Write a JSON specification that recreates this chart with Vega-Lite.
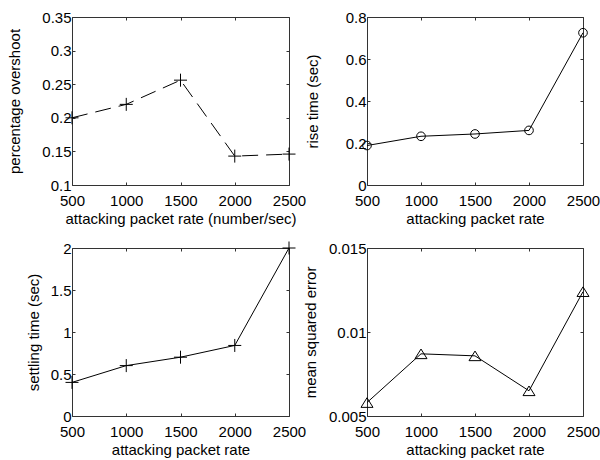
{
  "$schema": "https://vega.github.io/schema/vega-lite/v6.json",
  "padding": {"left": 7, "top": 9, "right": 0, "bottom": 0},
  "background": "#ffffff",
  "columns": 2,
  "spacing": {"row": 63, "column": 78},
  "bounds": "flush",
  "config": {
    "font": "Liberation Sans",
    "view": {"stroke": "#333333", "strokeWidth": 1},
    "axis": {
      "labelFont": "Liberation Sans", "titleFont": "Liberation Sans",
      "labelFontSize": 15, "titleFontSize": 15, "titleFontWeight": "normal",
      "labelColor": "#000000", "titleColor": "#000000",
      "grid": false, "domain": false, "tickSize": -3, "tickColor": "#333333", "tickWidth": 1,
      "labelPadding": 4, "labelOverlap": false, "labelFlush": false, "labelBound": false
    },
    "axisX": {"titlePadding": 3, "labelPadding": 11},
    "axisY": {"titlePadding": 9}
  },
  "concat": [
    {
      "width": 217, "height": 168,
      "data": {"values": [
        {"rate": 500, "value": 0.2},
        {"rate": 1000, "value": 0.22},
        {"rate": 1500, "value": 0.256},
        {"rate": 2000, "value": 0.143},
        {"rate": 2500, "value": 0.146}
      ]},
      "layer": [
        {
          "mark": {"type": "line", "color": "#000000", "strokeWidth": 1, "strokeDash": [16, 8]},
          "encoding": {
            "x": {"field": "rate", "type": "quantitative", "scale": {"domain": [500, 2500], "nice": false, "zero": false},
                  "axis": {"orient": "bottom", "values": [500, 1000, 1500, 2000, 2500], "format": "d", "title": "attacking packet rate (number/sec)"}},
            "y": {"field": "value", "type": "quantitative", "scale": {"domain": [0.1, 0.35], "nice": false, "zero": false},
                  "axis": {"orient": "left", "values": [0.1, 0.15, 0.2, 0.25, 0.3, 0.35], "labelExpr": "format(datum.value, '~g')", "title": "percentage overshoot", "titlePadding": 19}}
          }
        },
        {
          "mark": {"type": "point", "shape": "M-1,0L1,0M0,-1L0,1", "size": 169, "filled": false, "color": "#000000", "strokeWidth": 1, "opacity": 1},
          "encoding": {
            "x": {"field": "rate", "type": "quantitative", "scale": {"domain": [500, 2500], "nice": false, "zero": false},
                  "axis": {"orient": "top", "values": [500, 1000, 1500, 2000, 2500], "labels": false, "title": null}},
            "y": {"field": "value", "type": "quantitative", "scale": {"domain": [0.1, 0.35], "nice": false, "zero": false},
                  "axis": {"orient": "right", "values": [0.1, 0.15, 0.2, 0.25, 0.3, 0.35], "labels": false, "title": null}}
          }
        }
      ],
      "resolve": {"axis": {"x": "independent", "y": "independent"}}
    },
    {
      "width": 216, "height": 168,
      "data": {"values": [
        {"rate": 500, "value": 0.188},
        {"rate": 1000, "value": 0.232},
        {"rate": 1500, "value": 0.243},
        {"rate": 2000, "value": 0.26},
        {"rate": 2500, "value": 0.725}
      ]},
      "layer": [
        {
          "mark": {"type": "line", "color": "#000000", "strokeWidth": 1},
          "encoding": {
            "x": {"field": "rate", "type": "quantitative", "scale": {"domain": [500, 2500], "nice": false, "zero": false},
                  "axis": {"orient": "bottom", "values": [500, 1000, 1500, 2000, 2500], "format": "d", "title": "attacking packet rate"}},
            "y": {"field": "value", "type": "quantitative", "scale": {"domain": [0, 0.8], "nice": false, "zero": false},
                  "axis": {"orient": "left", "values": [0, 0.2, 0.4, 0.6, 0.8], "labelExpr": "format(datum.value, '~g')", "title": "rise time (sec)", "titlePadding": 25}}
          }
        },
        {
          "mark": {"type": "point", "shape": "circle", "size": 75, "filled": false, "color": "#000000", "strokeWidth": 1, "opacity": 1},
          "encoding": {
            "x": {"field": "rate", "type": "quantitative", "scale": {"domain": [500, 2500], "nice": false, "zero": false},
                  "axis": {"orient": "top", "values": [500, 1000, 1500, 2000, 2500], "labels": false, "title": null}},
            "y": {"field": "value", "type": "quantitative", "scale": {"domain": [0, 0.8], "nice": false, "zero": false},
                  "axis": {"orient": "right", "values": [0, 0.2, 0.4, 0.6, 0.8], "labels": false, "title": null}}
          }
        }
      ],
      "resolve": {"axis": {"x": "independent", "y": "independent"}}
    },
    {
      "width": 217, "height": 168,
      "data": {"values": [
        {"rate": 500, "value": 0.4},
        {"rate": 1000, "value": 0.6},
        {"rate": 1500, "value": 0.7},
        {"rate": 2000, "value": 0.84},
        {"rate": 2500, "value": 2.0}
      ]},
      "layer": [
        {
          "mark": {"type": "line", "color": "#000000", "strokeWidth": 1},
          "encoding": {
            "x": {"field": "rate", "type": "quantitative", "scale": {"domain": [500, 2500], "nice": false, "zero": false},
                  "axis": {"orient": "bottom", "values": [500, 1000, 1500, 2000, 2500], "format": "d", "title": "attacking packet rate"}},
            "y": {"field": "value", "type": "quantitative", "scale": {"domain": [0, 2], "nice": false, "zero": false},
                  "axis": {"orient": "left", "values": [0, 0.5, 1, 1.5, 2], "labelExpr": "format(datum.value, '~g')", "title": "settling time (sec)", "titlePadding": 9}}
          }
        },
        {
          "mark": {"type": "point", "shape": "M-1,0L1,0M0,-1L0,1", "size": 169, "filled": false, "color": "#000000", "strokeWidth": 1, "opacity": 1},
          "encoding": {
            "x": {"field": "rate", "type": "quantitative", "scale": {"domain": [500, 2500], "nice": false, "zero": false},
                  "axis": {"orient": "top", "values": [500, 1000, 1500, 2000, 2500], "labels": false, "title": null}},
            "y": {"field": "value", "type": "quantitative", "scale": {"domain": [0, 2], "nice": false, "zero": false},
                  "axis": {"orient": "right", "values": [0, 0.5, 1, 1.5, 2], "labels": false, "title": null}}
          }
        }
      ],
      "resolve": {"axis": {"x": "independent", "y": "independent"}}
    },
    {
      "width": 216, "height": 168,
      "data": {"values": [
        {"rate": 500, "value": 0.0058},
        {"rate": 1000, "value": 0.0087},
        {"rate": 1500, "value": 0.00858},
        {"rate": 2000, "value": 0.0065},
        {"rate": 2500, "value": 0.0124}
      ]},
      "layer": [
        {
          "mark": {"type": "line", "color": "#000000", "strokeWidth": 1},
          "encoding": {
            "x": {"field": "rate", "type": "quantitative", "scale": {"domain": [500, 2500], "nice": false, "zero": false},
                  "axis": {"orient": "bottom", "values": [500, 1000, 1500, 2000, 2500], "format": "d", "title": "attacking packet rate"}},
            "y": {"field": "value", "type": "quantitative", "scale": {"domain": [0.005, 0.015], "nice": false, "zero": false},
                  "axis": {"orient": "left", "values": [0.005, 0.01, 0.015], "labelExpr": "format(datum.value, '~g')", "title": "mean squared error", "titlePadding": 10}}
          }
        },
        {
          "mark": {"type": "point", "shape": "M0,-0.8L1,0.8L-1,0.8Z", "size": 144, "filled": false, "color": "#000000", "strokeWidth": 1, "opacity": 1},
          "encoding": {
            "x": {"field": "rate", "type": "quantitative", "scale": {"domain": [500, 2500], "nice": false, "zero": false},
                  "axis": {"orient": "top", "values": [500, 1000, 1500, 2000, 2500], "labels": false, "title": null}},
            "y": {"field": "value", "type": "quantitative", "scale": {"domain": [0.005, 0.015], "nice": false, "zero": false},
                  "axis": {"orient": "right", "values": [0.005, 0.01, 0.015], "labels": false, "title": null}}
          }
        }
      ],
      "resolve": {"axis": {"x": "independent", "y": "independent"}}
    }
  ]
}
